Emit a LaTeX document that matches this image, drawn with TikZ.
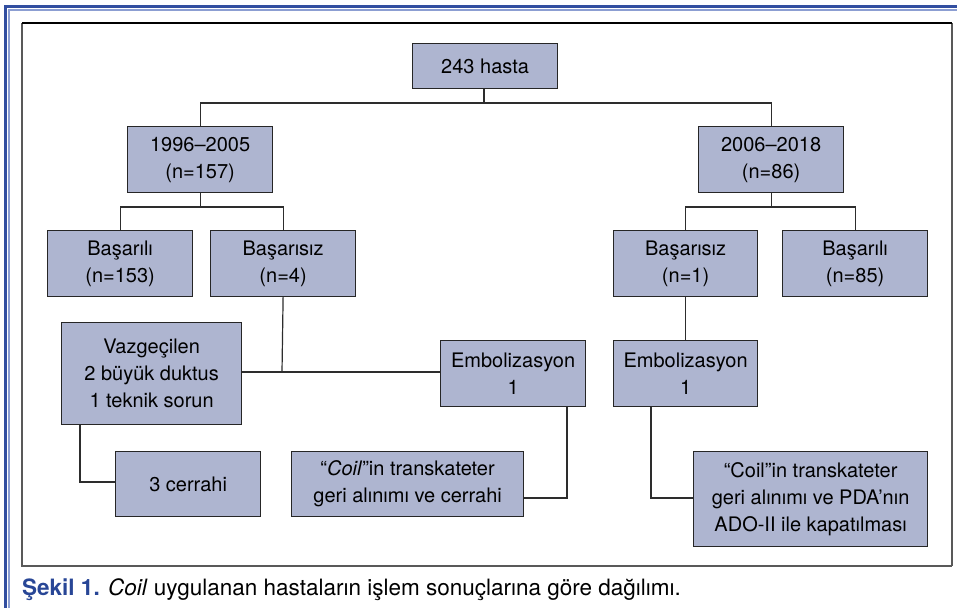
\documentclass[tikz,border=0pt]{standalone}
\usepackage{fontspec}
\setmainfont{TeX Gyre Heros}
\definecolor{boxfill}{RGB}{174,181,208}
\definecolor{framedark}{RGB}{50,78,160}
\definecolor{framelight}{RGB}{140,158,210}
\definecolor{capblue}{RGB}{40,70,150}
\definecolor{linecol}{RGB}{45,45,45}
\tikzset{
  fbox/.style={draw=black!85, line width=1.2pt, fill=boxfill, inner sep=0pt, align=center, anchor=north west,
    font=\fontsize{20}{27}\selectfont},
  conn/.style={draw=linecol, line width=1.2pt},
}
\newcommand{\bx}[6]{\node[fbox, minimum width=#4-#2, minimum height=#5-#3] (#1) at (#2,#3) {#6};}
\begin{document}
\begin{tikzpicture}[x=1pt,y=-1pt]
\useasboundingbox (0,0) rectangle (957,608);
% outer frame
\draw[framedark, line width=2.5pt] (957,6.5) -- (5.5,6.5) -- (5.5,608);
\draw[framelight, line width=1.8pt] (957,10) -- (9,10) -- (9,608);
% inner frame
\draw[gray!70!black, line width=1.2pt] (22,23) -- (22,566) -- (952,566);
\draw[gray!70!black, line width=2pt] (952,23) -- (952,566);
\draw[black, line width=1.2pt] (22,23) -- (952,23);
% boxes
\bx{root}{412}{43}{557}{88}{243 hasta}
\bx{a}{127}{126}{272}{192}{1996–2005\\(n=157)}
\bx{b}{698}{126}{843}{192}{2006–2018\\(n=86)}
\bx{a1}{47}{230}{192}{296}{Başarılı\\(n=153)}
\bx{a2}{210}{230}{355}{296}{Başarısız\\(n=4)}
\bx{b1}{613}{230}{757}{296}{Başarısız\\(n=1)}
\bx{b2}{782}{230}{927}{296}{Başarılı\\(n=85)}
\bx{vaz}{61}{322}{241}{424}{Vazgeçilen\\2 büyük duktus\\1 teknik sorun}
\bx{emb1}{440}{340}{585}{406}{Embolizasyon\\1}
\bx{emb2}{613}{340}{757}{406}{Embolizasyon\\1}
\bx{cer}{115}{451}{260}{516}{3 cerrahi}
\bx{coil1}{291}{451}{523}{516}{“\textit{Coil}”in transkateter\\geri alınımı ve cerrahi}
\bx{coil2}{693}{451}{927}{546}{“Coil”in transkateter\\geri alınımı ve PDA’nın\\ADO-II ile kapatılması}
% connectors
\coordinate (j0) at (484,103);
\draw[conn] (root.south -| j0) -- (j0);
\draw[conn] (a.north) -- (a.north |- j0) -- (b.north |- j0) -- (b.north);
\coordinate (j1) at (199,207);
\draw[conn] (a.south) -- (a.south |- j1);
\draw[conn] (a1.north) -- (a1.north |- j1) -- (a2.north |- j1) -- (a2.north);
\coordinate (j2) at (770,207);
\draw[conn] (b.south) -- (b.south |- j2);
\draw[conn] (b1.north) -- (b1.north |- j2) -- (b2.north |- j2) -- (b2.north);
\coordinate (j3) at (282,372);
\draw[conn] (a2.south) -- (j3);
\draw[conn] (vaz.east |- j3) -- (emb1.west |- j3);
\draw[conn] (b1.south) -- (emb2.north);
\coordinate (j4) at (80,482);
\draw[conn] (vaz.south -| j4) -- (j4) -- (cer.west |- j4);
\coordinate (j5) at (567,498);
\draw[conn] (emb1.south -| j5) -- (j5) -- (coil1.east |- j5);
\coordinate (j6) at (651,498);
\draw[conn] (emb2.south -| j6) -- (j6) -- (coil2.west |- j6);
% caption
\node[anchor=base west, inner sep=0pt, font=\fontsize{22.5}{26}\selectfont] (cap) at (22,595)
  {\textcolor{capblue}{\textbf{Şekil 1.}} \textit{Coil} uygulanan hastaların işlem sonuçlarına göre dağılımı.};
\end{tikzpicture}
\end{document}
